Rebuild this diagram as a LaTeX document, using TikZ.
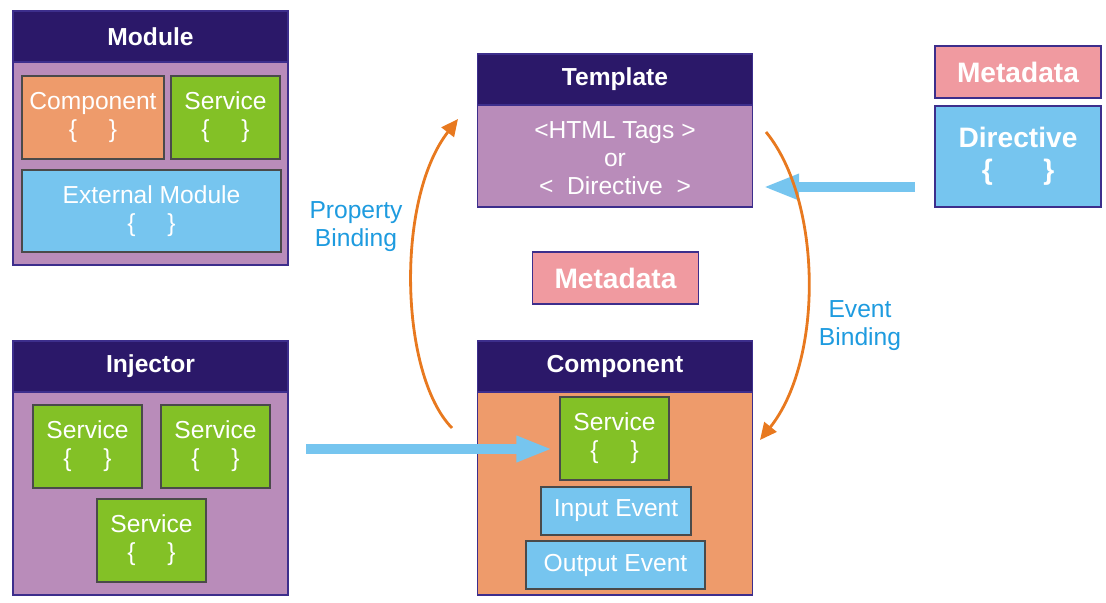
\documentclass[tikz,border=0pt]{standalone}
\usepackage{fontspec}
\setmainfont{Liberation Sans}
\usepackage{xcolor}
\usepackage{tikz}
\usetikzlibrary{arrows.meta}
\definecolor{hdrfill}{HTML}{2B1869}
\definecolor{panelfill}{HTML}{B98CBA}
\definecolor{compfill}{HTML}{EE9B6B}
\definecolor{servfill}{HTML}{83C126}
\definecolor{evfill}{HTML}{76C5EF}
\definecolor{metafill}{HTML}{F09AA0}
\definecolor{edgecol}{HTML}{3D2E8C}
\definecolor{innercol}{HTML}{4A4A4A}
\definecolor{bindcol}{HTML}{E8791F}
\definecolor{lblcol}{HTML}{1E9BDF}
\tikzset{
  box/.style={draw=edgecol, line width=0.8pt, inner sep=0pt, text=white, align=center,
    font=\fontsize{17.5}{20}\selectfont},
  hdrbox/.style={box, fill=hdrfill, minimum width=6.875cm, minimum height=1.275cm,
    font=\bfseries\fontsize{17.5}{20}\selectfont},
  panel/.style={box, fill=panelfill, minimum width=6.875cm, minimum height=6.35cm},
  compbox/.style={box, draw=innercol, fill=compfill},
  servbox/.style={box, draw=innercol, fill=servfill, minimum width=2.725cm, minimum height=2.075cm},
  evbox/.style={box, draw=innercol, fill=evfill, minimum height=1.2cm},
  metabox/.style={box, fill=metafill, minimum width=4.15cm, minimum height=1.3cm,
    font=\bfseries\fontsize{20}{23}\selectfont},
  bindline/.style={draw=bindcol, line width=2pt, -{Triangle[length=12pt,width=11pt]}},
  fatarrow/.style={draw=evfill, line width=7.8pt, -{Triangle[length=0.9cm,width=0.6cm]}},
  bindlbl/.style={text=lblcol, align=center, font=\fontsize{17.5}{20}\selectfont},
  bodytext/.style={text=white, align=center, font=\fontsize{17.5}{20}\selectfont}
}
\begin{document}
\begin{tikzpicture}[x=0.025cm, y=-0.025cm]
  \useasboundingbox (0,0) rectangle (1106,603);

  % module
  \node[panel] (modbox) at (150.5,138) {};
  \node[hdrbox] (modhdr) at (150.5,36.5) {Module};
  \node[compbox, minimum width=3.55cm, minimum height=2.075cm] (mcomp) at (93,117.5)
    {Component\\\{\hspace{1.3em}\}};
  \node[servbox] (mserv) at (225.5,117.5) {Service\\\{\hspace{1.3em}\}};
  \node[evbox, minimum width=6.475cm, minimum height=2.05cm] (mext) at (151.5,211)
    {External Module\\\{\hspace{1.3em}\}};

  % injector
  \node[panel] (injbox) at (150.5,468) {};
  \node[hdrbox] (injhdr) at (150.5,366.5) {Injector};
  \node[servbox] (iserva) at (87.5,446.5) {Service\\\{\hspace{1.3em}\}};
  \node[servbox] (iservb) at (215.5,446.5) {Service\\\{\hspace{1.3em}\}};
  \node[servbox] (iservc) at (151.5,540.5) {Service\\\{\hspace{1.3em}\}};

  % template
  \node[panel, minimum height=3.825cm] (tmplbox) at (615,130.5) {};
  \node[hdrbox] (tmplhdr) at (615,79.5) {Template};
  \node[bodytext] (tmpltxt) at (615,158) {<HTML Tags >\\or\\<\ \ Directive\ \ >};

  % directive
  \node[metabox] (dmeta) at (1018,72) {Metadata};
  \node[box, fill=evfill, minimum width=4.15cm, minimum height=2.525cm,
    font=\bfseries\fontsize{20}{23}\selectfont] (dirbox) at (1018,156.5)
    {Directive\\\{\hspace{1.8em}\}};

  \node[metabox] (cmeta) at (615.5,278) {Metadata};

  % component
  \node[compbox, draw=edgecol, minimum width=6.875cm, minimum height=6.35cm] (compbox) at (615,468) {};
  \node[hdrbox] (comphdr) at (615,366.5) {Component};
  \node[servbox] (cserv) at (614.5,438.5) {Service\\\{\hspace{1.3em}\}};
  \node[evbox, minimum width=3.75cm] (inev) at (616,511) {Input Event};
  \node[evbox, minimum width=4.475cm] (outev) at (615.5,565) {Output Event};

  % arrows
  \coordinate (injout) at (306,449);
  \coordinate (dirout) at (915,187);
  \draw[fatarrow, shorten >=0.175cm] (injout) -- (injout -| cserv.west);
  \draw[fatarrow, shorten >=0.25cm] (dirout) -- (dirout -| tmplbox.east);

  \coordinate (pbfrom) at (452,428);
  \coordinate (pbto) at (458,119);
  \coordinate (ebfrom) at (766,132);
  \coordinate (ebto) at (760,440);
  \draw[bindline] (pbfrom) .. controls (400,375) and (395,200) .. (pbto);
  \draw[bindline] (ebfrom) .. controls (822,200) and (824,360) .. (ebto);

  \node[bindlbl] (pblbl) at (356,227) {Property\\Binding};
  \node[bindlbl] (eblbl) at (860,326) {Event\\Binding};
\end{tikzpicture}
\end{document}
